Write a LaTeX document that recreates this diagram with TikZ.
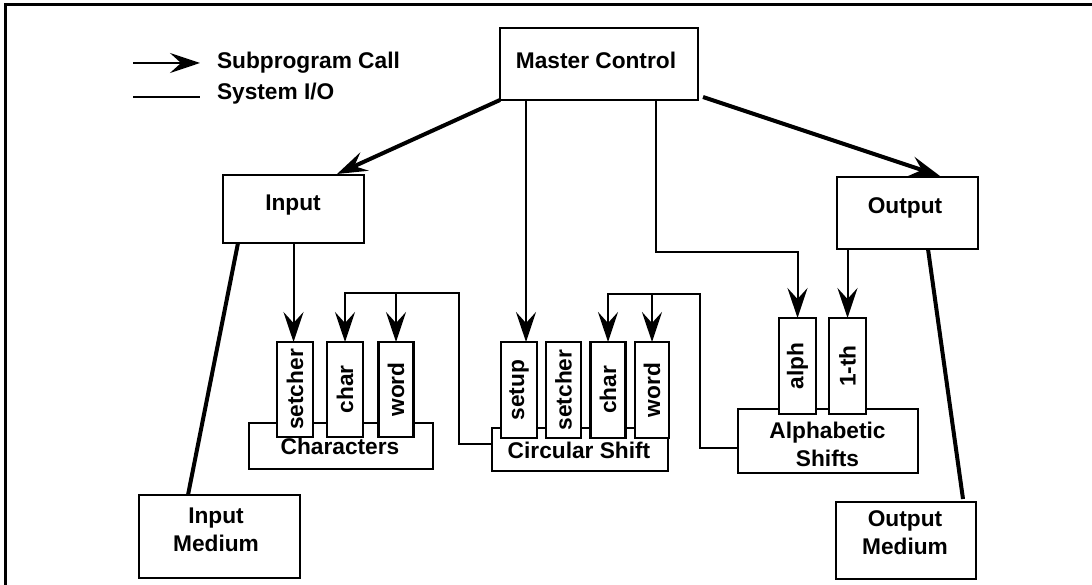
\documentclass[tikz,border=0pt]{standalone}
\usepackage{fontspec}
\usepackage{graphicx}
\setmainfont{Liberation Sans}
\usetikzlibrary{arrows.meta,calc}
\begin{document}
\begin{tikzpicture}[x=1pt,y=-1pt,
  every node/.style={inner sep=0pt,outer sep=0pt},
  txt/.style={font=\fontsize{22.7}{27.5}\selectfont\bfseries,align=center},
  box/.style={draw,line width=2.3pt,fill=white},
  subbox/.style={box,font=\fontsize{22.7}{27.5}\selectfont\bfseries},
  call/.style={line width=2pt,-{Stealth[length=30pt,width=20pt,inset=11pt]}},
  bigcall/.style={call,line width=4pt},
  sysio/.style={line width=2pt},
  bigio/.style={line width=4pt}]
\useasboundingbox (0,0) rectangle (1092,585);
% frame
\draw[line width=3pt] (5,585) -- (5,5) -- (1092,5);
% legend
\coordinate (lgA1) at (133,63); \coordinate (lgA2) at (200,63);
\coordinate (lgB1) at (133,97); \coordinate (lgB2) at (200,97);
\draw[call] (lgA1) -- (lgA2);
\draw[sysio] (lgB1) -- (lgB2);
\node[txt,anchor=base west] (lgcall) at (217,69) {Subprogram Call};
\node[txt,anchor=base west] (lgio) at (217,100) {System I/O};
% main boxes
\node[box,minimum width=198,minimum height=72] (mc) at (599,64) {};
\node[txt,anchor=base] (mct) at (596,69) {Master Control};
\node[box,minimum width=141,minimum height=68] (input) at (293.5,209) {};
\node[txt,anchor=base] (inputt) at (293,211) {Input};
\node[box,minimum width=141,minimum height=72] (output) at (907.5,213) {};
\node[txt,anchor=base] (outputt) at (905,213.5) {Output};
\node[box,minimum width=161,minimum height=83] (imed) at (219.5,536.5) {};
\node[txt,anchor=base] (imedt) at (216,551) {Input\\Medium};
\node[box,minimum width=140,minimum height=77] (omed) at (906,540.5) {};
\node[txt,anchor=base] (omedt) at (905,554) {Output\\Medium};
% module bases
\node[box,minimum width=184,minimum height=46] (chars) at (341,446) {};
\node[box,minimum width=176,minimum height=43] (cs) at (580,449.5) {};
\node[box,minimum width=180,minimum height=64] (as) at (828,441) {};
% sub boxes
\node[subbox,minimum width=36,minimum height=95] (c-setcher) at (295,389.5) {\rotatebox{90}{setcher}};
\node[subbox,minimum width=36,minimum height=95] (c-char) at (345,389.5) {\rotatebox{90}{char}};
\node[subbox,minimum width=35,minimum height=95] (c-word) at (396,389.5) {\rotatebox{90}{word}};
\node[subbox,minimum width=36,minimum height=96] (s-setup) at (519,390) {\rotatebox{90}{setup}};
\node[subbox,minimum width=35,minimum height=96] (s-setcher) at (563.5,390) {\rotatebox{90}{setcher}};
\node[subbox,minimum width=35,minimum height=96] (s-char) at (608,390) {\rotatebox{90}{char}};
\node[subbox,minimum width=34,minimum height=96] (s-word) at (652,390) {\rotatebox{90}{word}};
\node[subbox,minimum width=37,minimum height=96] (a-alph) at (797.5,366) {\rotatebox{90}{alph}};
\node[subbox,minimum width=37,minimum height=96] (a-ith) at (847.5,366) {\rotatebox{90}{1-th}};
% base labels
\node[txt,anchor=base] (charst) at (340,454) {Characters};
\node[txt,anchor=base] (cst) at (579,458.5) {Circular Shift};
\node[txt,anchor=base] (ast) at (827.5,466) {Alphabetic\\Shifts};
% calls from master control
\draw[bigcall] (mc.south west) -- ($(input.north)+(43.5,-1)$);
\draw[bigcall] ($(mc.south east)+(5,-3)$) -- ($(output.north)+(32.5,-1)$);
\coordinate (mcA) at ($(mc.south west)+(26,0)$);
\draw[call] (mcA) -- (mcA |- s-setup.north);
\coordinate (mcB) at ($(mc.south west)+(156,0)$);
\draw[call] (mcB) |- ($(a-alph.north)+(0,-66)$) -- (a-alph.north);
% input / output calls
\draw[call] (input.south) -- (input.south |- c-setcher.north);
\coordinate (outA) at ($(output.south west)+(10.5,0)$);
\draw[call] (outA) -- (outA |- a-ith.north);
% circular shift -> characters
\coordinate (cbend) at ($(c-char.north)+(0,-49)$);
\draw[call] ($(cs.west)+(0,-6)$) -- ++(-33,0) |- (cbend) -- (c-char.north);
\draw[call] (c-word.north |- cbend) -- (c-word.north);
% alphabetic shifts -> circular shift
\coordinate (sbend) at ($(s-char.north)+(0,-48)$);
\draw[call] ($(as.west)+(0,7)$) -- ++(-38,0) |- (sbend) -- (s-char.north);
\draw[call] (s-word.north |- sbend) -- (s-word.north);
% system I/O
\draw[bigio] ($(input.south west)+(15,0)$) -- ($(imed.north west)+(49,0)$);
\draw[bigio] ($(output.south west)+(91,0)$) -- ($(omed.north west)+(127,-3)$);
\end{tikzpicture}
\end{document}
